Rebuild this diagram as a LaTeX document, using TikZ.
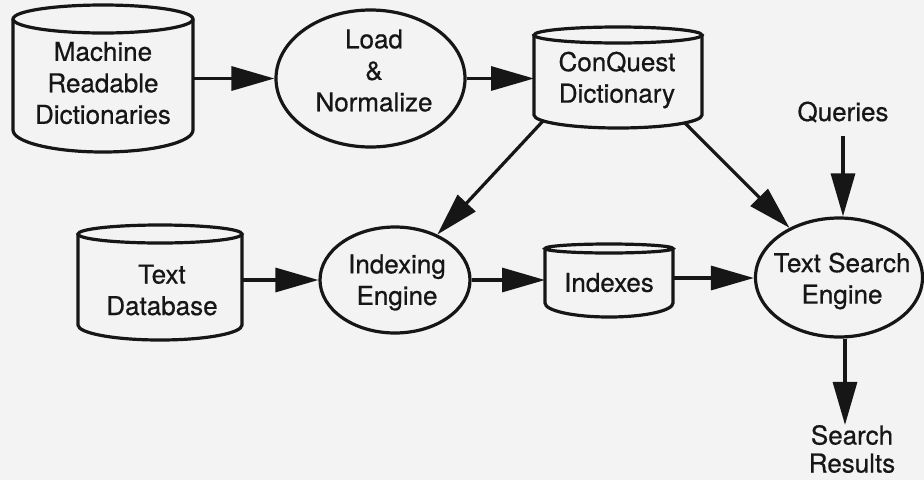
\documentclass[tikz,border=0pt]{standalone}
\usepackage{fontspec}
\setmainfont{TeX Gyre Heros}[BoldFont=TeX Gyre Heros, BoldFeatures={FakeBold=0.6}]
\usetikzlibrary{shapes.geometric,arrows.meta}
\definecolor{bg}{RGB}{243,243,243}
\definecolor{ink}{RGB}{22,22,22}
\tikzset{
  shapeline/.style={draw=ink, line width=3.2pt},
  cylbody/.style={rectangle, inner sep=0pt, outer sep=0pt},
  proc/.style={ellipse, draw=ink, line width=3.2pt, inner sep=0pt},
  lbl/.style={align=center, inner sep=0pt, text=ink, font=\fontsize{26}{31.5}\selectfont\bfseries},
  flow/.style={draw=ink, line width=3.2pt, -{Triangle[length=43pt,width=24pt]}}
}
% name, left, right, top-ellipse centre y, top radius, side end y, bottom depth
\newcommand\dbcyl[7]{%
  \node[cylbody, minimum width={#3-#2}, minimum height={#6-#4-#5}] (#1) at ({(#2+#3)/2},{-(#4+#5+#6)/2}) {};
  \draw[shapeline] ({(#2+#3)/2},-#4) ellipse [x radius={(#3-#2)/2}, y radius=#5];
  \draw[shapeline] (#2,-#4) -- (#2,-#6) arc[start angle=180, end angle=360, x radius={(#3-#2)/2}, y radius=#7] -- (#3,-#4);
}
\begin{document}
\begin{tikzpicture}[x=1pt,y=1pt]
\fill[bg] (0,0) rectangle (924,-480);
\useasboundingbox (0,0) rectangle (924,-480);

% stores
\dbcyl{mrd}{13}{193}{19}{14}{130}{22}
\dbcyl{cq}{534}{702}{35}{8}{115}{13}
\dbcyl{tdb}{78}{242}{234}{9}{325}{15}
\dbcyl{ixs}{545}{673}{248.5}{4.5}{303}{14}

% processes
\node[proc, minimum width=189, minimum height=137] (load) at (370.5,-78.5) {};
\node[proc, minimum width=150, minimum height=106] (idx) at (395,-280) {};
\node[proc, minimum width=167, minimum height=119] (tse) at (839,-277.5) {};

% texts
\node[lbl] (mrdt) at (103,-83) {Machine\\Readable\\Dictionaries};
\node[lbl] (loadt) at (374,-70.5) {Load\\\&\\Normalize};
\node[lbl] (cqt) at (617,-80) {ConQuest\\Dictionary};
\node[lbl] (qt) at (843,-112) {Queries};
\node[lbl] (tdbt) at (162,-290) {Text\\Database};
\node[lbl] (idxt) at (397,-282.5) {Indexing\\Engine};
\node[lbl] (ixst) at (609,-282.5) {Indexes};
\node[lbl] (tset) at (842,-281) {Text Search\\Engine};
\node[lbl, font=\fontsize{26}{28}\selectfont\bfseries] (sr) at (852,-449) {Search\\Results};

% connectors
\draw[flow] (mrd.east |- load.west) -- (load.west);
\draw[flow] (load.east) -- (load.east -| cq.west);
\draw[flow] (tdb.east |- idx.west) -- (idx.west);
\draw[flow] (idx.east) -- (idx.east -| ixs.west);
\draw[flow] (ixs.east) -- (ixs.east -| tse.west);
\coordinate (cqbl) at ([xshift=9pt,yshift=-6pt]cq.south west);
\coordinate (cqbr) at ([xshift=-17pt,yshift=-8pt]cq.south east);
\draw[flow] (cqbl) -- (idx);
\draw[flow] (cqbr) -- (tse);
\draw[flow] ([yshift=-13.5pt]qt.south) -- (qt.south |- tse.north);
\draw[flow] ([xshift=6pt]tse.south) -- ([xshift=-7pt]sr.north);
\end{tikzpicture}
\end{document}
